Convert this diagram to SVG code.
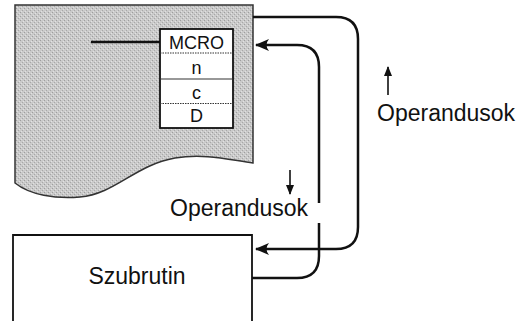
<svg xmlns="http://www.w3.org/2000/svg" width="530" height="321" viewBox="0 0 530 321">
  <style>
    .lbl { font-family: "Liberation Sans", Arial, sans-serif; fill: #111; }
    .big { font-size: 23px; }
    .cell { font-size: 18px; text-anchor: middle; }
    .conn { fill: none; stroke: #111; stroke-width: 2.5; }
    .thin { fill: none; stroke: #111; stroke-width: 1.6; }
  </style>
  <defs>
    <pattern id="stip" width="4" height="4" patternUnits="userSpaceOnUse">
      <rect width="4" height="4" fill="#cacaca"/>
      <rect x="0" y="0" width="1" height="1" fill="#9e9e9e"/>
      <rect x="2" y="2" width="1" height="1" fill="#a8a8a8"/>
      <rect x="3" y="1" width="1" height="1" fill="#e2e2e2"/>
      <rect x="1" y="3" width="1" height="1" fill="#e0e0e0"/>
    </pattern>
    <marker id="ah" viewBox="0 0 14 12" refX="13" refY="6" markerWidth="14" markerHeight="12" markerUnits="userSpaceOnUse" orient="auto">
      <path d="M14,6 L0,0 Q5,6 0,12 Z" fill="#111"/>
    </marker>
    <marker id="sh" viewBox="0 0 10 8" refX="9" refY="4" markerWidth="10" markerHeight="8" markerUnits="userSpaceOnUse" orient="auto">
      <path d="M10,4 L0,0 L0,8 Z" fill="#111"/>
    </marker>
  </defs>

  <g id="program">
    <path d="M15,5 H253 V163 C230,160 205,153 175,158 C135,165 115,194 80,197 C55,199 30,195 15,183 Z" fill="url(#stip)" stroke="#333" stroke-width="1.5"/>
    <line x1="91" y1="42" x2="160" y2="42" stroke="#111" stroke-width="2.5"/>
  </g>

  <g id="mcro-table">
    <rect x="160" y="29" width="73" height="99" fill="#fff" stroke="#111" stroke-width="1.8"/>
    <line x1="160" y1="53" x2="233" y2="53" stroke="#333" stroke-width="1" stroke-dasharray="1.5,1"/>
    <line x1="160" y1="79" x2="233" y2="79" stroke="#333" stroke-width="1.2"/>
    <line x1="160" y1="103.5" x2="233" y2="103.5" stroke="#333" stroke-width="1" stroke-dasharray="1.5,1"/>
    <text class="lbl cell" x="196.5" y="49">MCRO</text>
    <text class="lbl cell" x="196.5" y="74">n</text>
    <text class="lbl cell" x="196.5" y="99">c</text>
    <text class="lbl cell" x="196.5" y="122">D</text>
  </g>

  <g id="subroutine">
    <path d="M13,322 V235 H252 V322" fill="#fff" stroke="#111" stroke-width="1.8"/>
    <text class="lbl big" x="137" y="284" text-anchor="middle">Szubrutin</text>
  </g>

  <g id="connectors">
    <path class="conn" d="M253,17 H336 Q358,17 358,39 V227 Q358,249 336,249 H256" marker-end="url(#ah)"/>
    <path class="conn" d="M252,278 H297 Q319,278 319,256 V223"/>
    <path class="conn" d="M319,203 V67 Q319,45 297,45 H256" marker-end="url(#ah)"/>
  </g>

  <g id="label-up">
    <line class="thin" x1="388" y1="95" x2="388" y2="67" marker-end="url(#sh)"/>
    <text class="lbl big" x="377" y="121">Operandusok</text>
  </g>

  <g id="label-down">
    <line class="thin" x1="290" y1="170" x2="290" y2="194" marker-end="url(#sh)"/>
    <text class="lbl big" x="170" y="216">Operandusok</text>
  </g>
</svg>
